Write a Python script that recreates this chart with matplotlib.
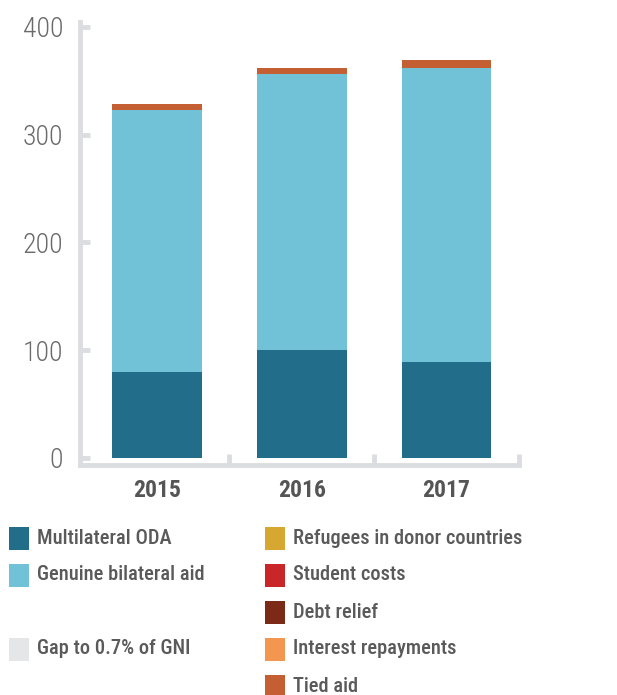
import matplotlib
matplotlib.use("Agg")
import matplotlib.pyplot as plt
from matplotlib.patches import Rectangle
from matplotlib import font_manager

years = ["2015", "2016", "2017"]
multilateral = [80, 100, 89]
genuine_bilateral = [243, 256, 273]
gap_to_07 = [0, 0, 0]
refugees = [0, 0, 0]
student_costs = [0, 0, 0]
debt_relief = [0, 0, 0]
interest_repayments = [0, 0, 0]
tied_aid = [5.5, 6, 7]

y_ticks = [0, 100, 200, 300, 400]

series = [
    ("Multilateral ODA", multilateral, "#226d89"),
    ("Genuine bilateral aid", genuine_bilateral, "#72c2d7"),
    ("Refugees in donor countries", refugees, "#d6a832"),
    ("Student costs", student_costs, "#c9262a"),
    ("Debt relief", debt_relief, "#7b2a18"),
    ("Interest repayments", interest_repayments, "#f29650"),
    ("Tied aid", tied_aid, "#c45e33"),
    ("Gap to 0.7% of GNI", gap_to_07, "#e5e6e8"),
]

names = {f.name for f in font_manager.fontManager.ttflist}
cands = ["Roboto Condensed", "Liberation Sans Narrow", "Open Sans Condensed",
         "DejaVu Sans Condensed", "Noto Sans Condensed"]
narrow = [c for c in cands if c in names]
FAM = (narrow[:1] + ["Liberation Sans", "DejaVu Sans"])
NARROW = bool(narrow)

W, H = 617, 695
fig = plt.figure(figsize=(W / 100, H / 100), dpi=100)
ax = fig.add_axes([80 / W, 1 - 465 / H, (519 - 80) / W, (465 - 22) / H])

x = list(range(len(years)))
bottom = [0.0] * len(years)
for name, vals, col in series:
    ax.bar(x, vals, bottom=bottom, width=0.62, color=col, linewidth=0)
    bottom = [b + v for b, v in zip(bottom, vals)]

ax.set_xlim(-0.53, 2.5)
ax.set_ylim(-6.5, 404.6)

axis_col = "#dcdde0"
for s in ["top", "right"]:
    ax.spines[s].set_visible(False)
for s in ["left", "bottom"]:
    ax.spines[s].set_color(axis_col)
    ax.spines[s].set_linewidth(3.5)

ytick_fs = 20 if NARROW else 18
ax.set_yticks(y_ticks)
ax.set_yticklabels([str(t) for t in y_ticks], family=FAM, fontsize=ytick_fs,
                   color="#6a6a6a", fontweight="light")
ax.tick_params(axis="y", direction="in", length=7, width=3.5, color=axis_col, pad=12)

ax.set_xticks(x)
ax.set_xticklabels(years, family=FAM, fontsize=17 if NARROW else 16,
                   fontweight="bold", color="#555555")
ax.tick_params(axis="x", length=0, pad=10)
ax.set_xticks([0.5, 1.5, 2.5], minor=True)
ax.tick_params(axis="x", which="minor", direction="in", length=8, width=3.5, color=axis_col)

# Legend (manual layout)
left_col = [series[0], series[1], None, series[7]]
right_col = series[2:7]
row_y = [538, 575, 612, 649, 686]
leg_fs = 14.8 if NARROW else 13.5

def add_item(item, xs, xt, yc):
    name, _, col = item
    fig.patches.append(Rectangle((xs / W, 1 - (yc + 11.5) / H), 20 / W, 23 / H,
                                 transform=fig.transFigure, facecolor=col, edgecolor="none"))
    fig.text(xt / W, 1 - yc / H, name, family=FAM, fontsize=leg_fs, color="#5a5a5a",
             va="center", ha="left", fontweight="medium")

for i, item in enumerate(left_col):
    if item is not None:
        add_item(item, 9, 37, row_y[i])
for i, item in enumerate(right_col):
    add_item(item, 265, 293, row_y[i])

fig.savefig("out.png", dpi=100)
